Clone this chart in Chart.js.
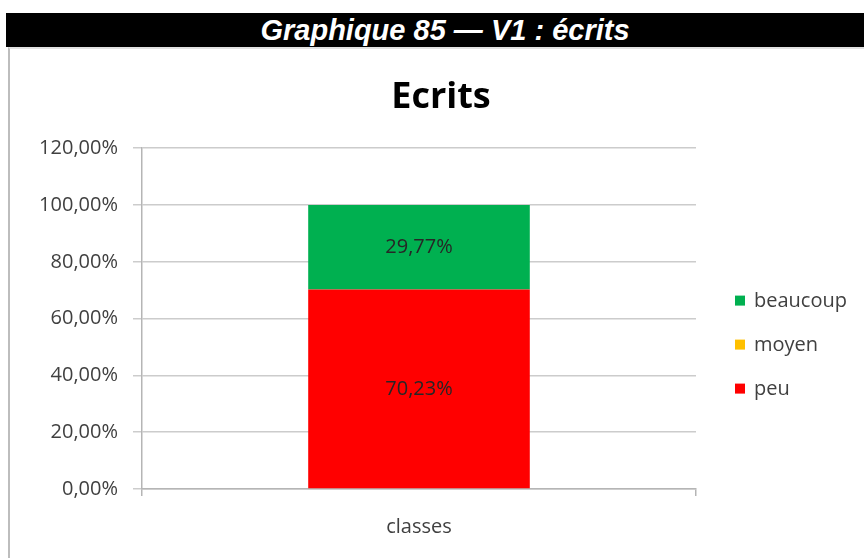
<!DOCTYPE html>
<html>
<head>
<meta charset="utf-8">
<script src="https://cdn.jsdelivr.net/npm/chart.js@4.4.0/dist/chart.umd.min.js"></script>
<style>
  html, body { margin: 0; padding: 0; background: #fff; }
  body { width: 864px; height: 558px; position: relative; overflow: hidden; }
  #header {
    position: absolute; left: 6px; top: 13px; width: 858px; height: 34px;
    background: #000; color: #fff; box-sizing: border-box; padding-left: 20px;
    font: italic bold 29px "Liberation Sans", Arial, sans-serif;
    line-height: 34px; text-align: center;
  }
  #frame {
    position: absolute; left: 8px; top: 47px; width: 856px; height: 511px;
    border-left: 2px solid #bdbdbd; border-top: 2px solid #e2e2e2;
  }
  #wrap { position: absolute; left: 10px; top: 49px; width: 854px; height: 509px; }
</style>
</head>
<body>
<div id="header">Graphique 85 — V1 : écrits</div>
<div id="frame"></div>
<div id="wrap"><canvas id="chart"></canvas></div>
<script>
  const categories = ['classes'];
  const peu = [70.23];
  const moyen = [0];
  const beaucoup = [29.77];
  const yTicks = [0, 20, 40, 60, 80, 100, 120];

  const FONT = '"Open Sans", sans-serif';
  const fmtPct = v => v.toFixed(2).replace('.', ',') + '%';

  // writes each segment's value in the middle of its bar
  const valueLabels = {
    id: 'valueLabels',
    afterDatasetsDraw(chart) {
      const ctx = chart.ctx;
      ctx.save();
      ctx.font = '20px ' + FONT;
      ctx.fillStyle = '#262626';
      ctx.textAlign = 'center';
      ctx.textBaseline = 'middle';
      chart.data.datasets.forEach((ds, i) => {
        chart.getDatasetMeta(i).data.forEach((bar, j) => {
          const v = ds.data[j];
          if (!v) return;
          ctx.fillText(fmtPct(v), bar.x, (bar.y + bar.base) / 2);
        });
      });
      ctx.restore();
    }
  };

  // legend to the right of the plot, top series first
  const sideLegend = {
    id: 'sideLegend',
    afterDraw(chart) {
      const { ctx, chartArea } = chart;
      const items = chart.data.datasets.slice().reverse();
      const x = chartArea.right + 39;
      const mid = (chartArea.top + chartArea.bottom) / 2 + 26;
      ctx.save();
      ctx.font = '20px ' + FONT;
      ctx.textBaseline = 'middle';
      items.forEach((ds, i) => {
        const y = mid + (i - (items.length - 1) / 2) * 44;
        ctx.fillStyle = ds.backgroundColor;
        ctx.fillRect(x, y - 5, 10, 10);
        ctx.fillStyle = '#404040';
        ctx.fillText(ds.label, x + 19, y + 1);
      });
      ctx.restore();
    }
  };

  const ctx = document.getElementById('chart').getContext('2d');
  const chart = new Chart(ctx, {
    type: 'bar',
    data: {
      labels: categories,
      datasets: [
        { label: 'peu', data: peu, backgroundColor: '#ff0000' },
        { label: 'moyen', data: moyen, backgroundColor: '#ffc000' },
        { label: 'beaucoup', data: beaucoup, backgroundColor: '#00b050' }
      ]
    },
    options: {
      responsive: true,
      maintainAspectRatio: false,
      animation: false,
      categoryPercentage: 1,
      barPercentage: 0.4,
      layout: { padding: { left: 8, right: 0, top: 0, bottom: 0 } },
      plugins: {
        title: {
          display: true,
          text: 'Ecrits',
          color: '#000',
          font: { family: FONT, size: 36, weight: 'bold' },
          padding: { top: 27, bottom: 29 }
        },
        legend: { display: false },
        tooltip: { enabled: false }
      },
      scales: {
        x: {
          stacked: true,
          grid: { drawOnChartArea: false, tickLength: 7, color: '#b5b5b5', lineWidth: 1.5 },
          border: { color: '#b5b5b5', width: 1.5 },
          ticks: { color: '#404040', padding: 19, font: { family: FONT, size: 20 } },
          afterFit(s) { s.height = 69; }
        },
        y: {
          stacked: true,
          min: 0,
          max: 120,
          afterBuildTicks(s) { s.ticks = yTicks.map(v => ({ value: v })); },
          grid: { color: '#cccccc', lineWidth: 1.5, tickLength: 9 },
          border: { color: '#b5b5b5', width: 1.5 },
          ticks: { color: '#404040', padding: 15, font: { family: FONT, size: 20 }, callback: v => fmtPct(v) },
          afterFit(s) { s.width = 124; }
        },
        // empty axis that keeps room for the legend
        gap: {
          position: 'right',
          display: true,
          grid: { display: false },
          border: { display: false },
          ticks: { display: false },
          afterFit(s) { s.width = 168; }
        }
      }
    },
    plugins: [valueLabels, sideLegend]
  });
</script>
</body>
</html>
